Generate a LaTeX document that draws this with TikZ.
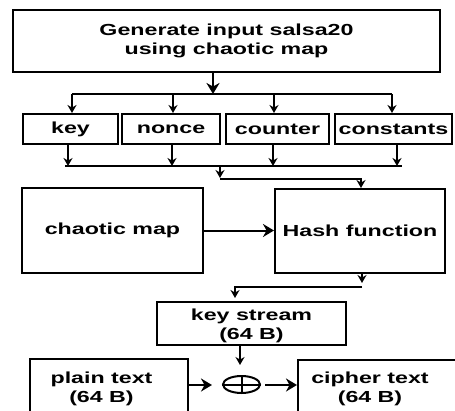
\documentclass[tikz,border=0pt]{standalone}
\usepackage{fontspec}
\setmainfont{Liberation Sans}[FakeStretch=1.45]
\usetikzlibrary{arrows.meta,shapes.geometric}
\begin{document}
\begin{tikzpicture}[x=1pt,y=-1pt,
  box/.style={draw,line width=2pt,inner sep=0pt,rectangle,font=\fontsize{16}{19}\selectfont\bfseries,align=center},
  txt/.style={inner sep=0pt,font=\fontsize{16}{19}\selectfont\bfseries,align=center},
  arr/.style={line width=1.6pt,-{Stealth[length=8pt,width=9pt]}},
  bigarr/.style={line width=2pt,-{Stealth[length=11pt,width=13pt]}},
  ln/.style={line width=1.6pt}]
\useasboundingbox (0,0) rectangle (455,410);
\clip (0,0) rectangle (455,410);
% boxes
\node[box,minimum width=427pt,minimum height=62pt] (top) at (226.5,41) {Generate input salsa20\\using chaotic map};
\node[box,minimum width=95pt,minimum height=30pt] (key) at (70.5,129) {key};
\node[box,minimum width=98pt,minimum height=30pt] (nonce) at (171,129) {nonce};
\node[box,minimum width=103pt,minimum height=30pt] (counter) at (277.5,129) {counter};
\node[box,minimum width=117pt,minimum height=30pt] (const) at (393.5,129) {constants};
\node[box,minimum width=181pt,minimum height=85pt] (chaotic) at (112.5,230.5) {chaotic map};
\node[box,minimum width=170pt,minimum height=84pt] (hash) at (360,231) {Hash function};
\node[box,minimum width=189pt,minimum height=43pt] (ks) at (251.5,323.5) {};
\node[txt] (kst) at (251.5,326) {key stream\\(64 B)};
\node[box,minimum width=158pt,minimum height=56pt] (plain) at (109,387) {};
\node[txt] (plaint) at (101.5,389) {plain text\\(64 B)};
\node[box,minimum width=164pt,minimum height=55pt] (cipher) at (380,387.5) {};
\node[txt] (ciphert) at (370,389) {cipher text\\(64 B)};
\node[draw,ellipse,line width=2pt,minimum width=37pt,minimum height=17pt,inner sep=0pt] (xor) at (241.5,384.5) {};
\draw[line width=2pt] (xor.north) -- (xor.south) (xor.west) -- (xor.east);
% top distribution
\coordinate (j1) at (213,94);
\coordinate (b1) at (72,94);
\coordinate (b2) at (173,94);
\coordinate (b3) at (274,94);
\coordinate (b4) at (392,94);
\draw[bigarr] (top.south -| j1) -- (j1);
\draw[ln] (b1) -- (b4);
\draw[arr] (b1) -- (key.north -| b1);
\draw[arr] (b2) -- (nonce.north -| b2);
\draw[arr] (b3) -- (counter.north -| b3);
\draw[arr] (b4) -- (const.north -| b4);
% collection
\coordinate (c1) at (68,166);
\coordinate (c2) at (172,166);
\coordinate (c3) at (273,166);
\coordinate (c4) at (397,166);
\coordinate (cl) at (65,166);
\coordinate (cr) at (402,166);
\draw[ln] (cl) -- (cr);
\draw[arr] (key.south -| c1) -- (c1);
\draw[arr] (nonce.south -| c2) -- (c2);
\draw[arr] (counter.south -| c3) -- (c3);
\draw[arr] (const.south -| c4) -- (c4);
\coordinate (m1) at (220,166);
\coordinate (m2) at (220,178);
\coordinate (m3) at (220,179);
\coordinate (m4) at (361,179);
\draw[arr] (m1) -- (m2);
\draw[arr] (m3) -| (hash.north -| m4);
% chaotic -> hash
\draw[bigarr] (chaotic.east) -- (chaotic.east -| hash.west);
% hash -> key stream
\coordinate (h1) at (362,283);
\coordinate (h2) at (362,287);
\coordinate (h3) at (235,298);
\draw[arr] (hash.south -| h1) -- (h1);
\draw[arr] (h2) -| (h3);
% key stream -> xor
\coordinate (k1) at (240,365);
\draw[arr] (ks.south -| k1) -- (k1);
% plain -> xor -> cipher
\coordinate (p1) at (212,385);
\coordinate (p2) at (265,385);
\draw[bigarr] (plain.east |- p1) -- (p1);
\draw[bigarr] (p2) -- (cipher.west |- p2);
\end{tikzpicture}
\end{document}
